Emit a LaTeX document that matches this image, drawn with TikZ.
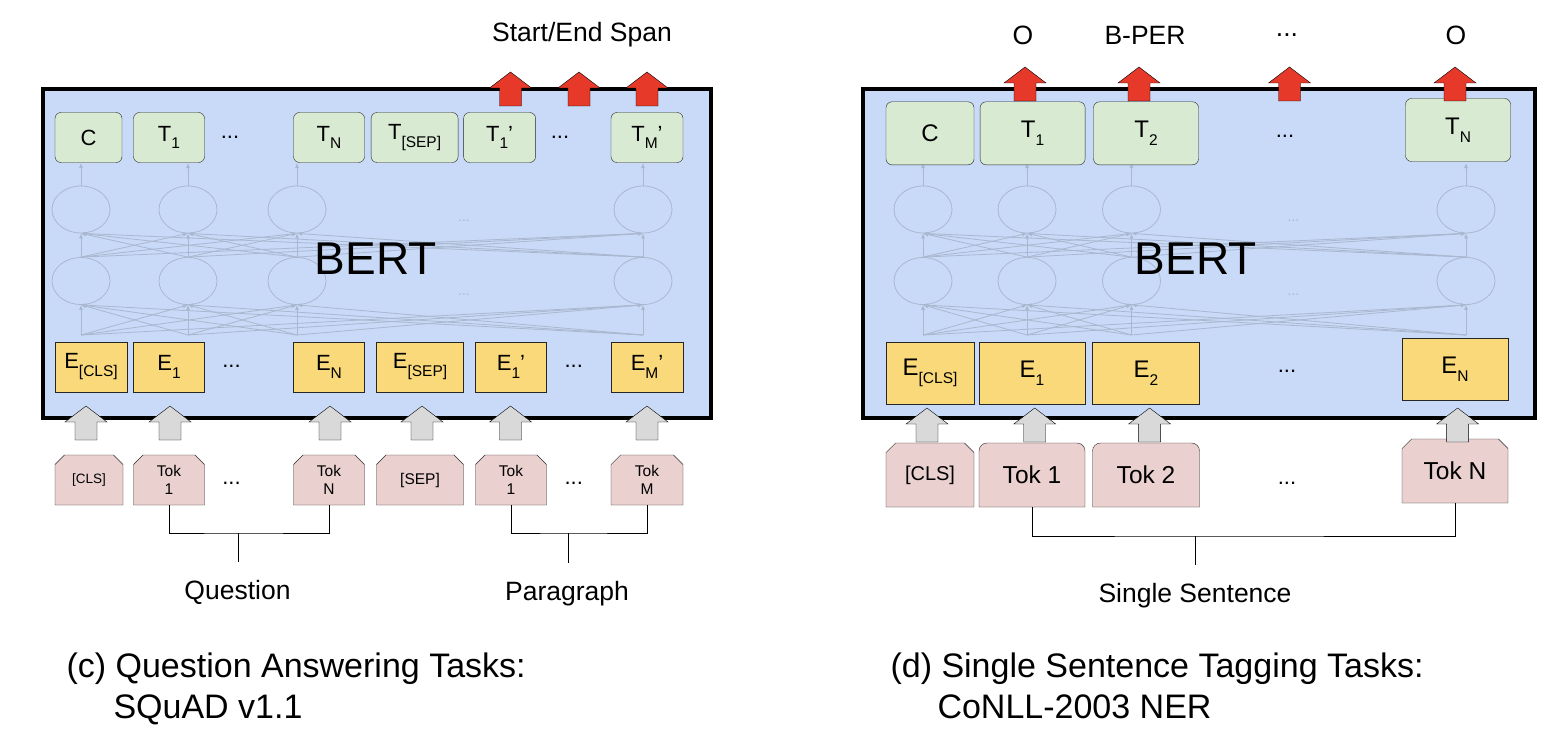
\documentclass[tikz,border=0pt]{standalone}
\usepackage{fontspec}
\setmainfont{Liberation Sans}
\usetikzlibrary{positioning, shapes.misc, shapes.geometric, arrows.meta}

\definecolor{bertblue}{HTML}{C9DAF8}
\definecolor{tgreen}{HTML}{D9EAD3}
\definecolor{eyellow}{HTML}{FAD97A}
\definecolor{tokpink}{HTML}{EAD0CF}
\definecolor{arrowred}{HTML}{E6392A}
\definecolor{arrowgray}{HTML}{D9D9D9}
\definecolor{netgray}{HTML}{A9B7CF}

% lowered index as in the slides
\newcommand{\sub}[1]{\raisebox{-0.34em}{\fontsize{15.5}{15.5}\selectfont #1}}
% big block arrow: x, tip y, colour
\newcommand{\blockarrow}[3]{%
  \draw[fill=#3, line join=miter] (#1,#2) -- ++(21,16) -- ++(-10,0) -- ++(0,18)
    -- ++(-22,0) -- ++(0,-18) -- ++(-10,0) -- cycle;}

\begin{document}
\begin{tikzpicture}[x=1pt, y=-1pt,
    tbox/.style={draw=black!85, fill=tgreen, rounded corners=6pt, inner sep=0pt,
      minimum height=50pt, font=\fontsize{22}{22}\selectfont},
    ebox/.style={draw=black!85, fill=eyellow, inner sep=0pt,
      minimum height=50pt, font=\fontsize{22}{22}\selectfont},
    tok/.style={draw=black!85, fill=tokpink, chamfered rectangle,
      chamfered rectangle corners={north west, north east}, chamfered rectangle xsep=6pt,
      inner sep=0pt, minimum height=50pt, align=center, font=\fontsize{15.5}{18.5}\selectfont},
    neuron/.style={draw=netgray, line width=0.8pt, ellipse, minimum width=58pt,
      minimum height=47pt, inner sep=0pt},
    netline/.style={draw=netgray, line width=0.8pt, -{Latex[length=5pt, width=4pt]}},
    dots/.style={font=\fontsize{22}{22}\selectfont},
    label/.style={font=\fontsize{26.5}{26.5}\selectfont},
    caption/.style={anchor=base west, font=\fontsize{34}{34}\selectfont}]
  \useasboundingbox (0,0) rectangle (1562,741);

  % ---------------- (c) question answering ----------------
  \draw[line width=3.5pt, fill=bertblue] (43,89) rectangle (711,418);

  % hidden layers
  \foreach \i/\x in {1/81, 2/188, 3/297, 4/643} {
    \node[neuron] (qaL\i) at (\x,281) {};
    \node[neuron] (qaU\i) at (\x,209.5) {};
    \coordinate (qaB\i) at (\x,335);
    \coordinate (qaO\i) at (\x,163);
  }
  \foreach \i in {1,...,4} {
    \draw[netline] (qaU\i.north) -- (qaO\i);
    \foreach \j in {1,...,4} {
      \draw[netline] (qaB\i) -- (qaL\j.south);
      \draw[netline] (qaL\i.north) -- (qaU\j.south);
    }
  }
  \node[font=\fontsize{14}{14}\selectfont, text=netgray] (qaUdots) at (464,221) {...};
  \node[font=\fontsize{14}{14}\selectfont, text=netgray] (qaLdots) at (464,295) {...};
  \node[font=\fontsize{46}{46}\selectfont] (qaBert) at (375.6,259) {BERT};

  % outputs
  \foreach \n/\x/\w/\t in {C/88.5/67/C, T1/169/71/T\sub{1}, TN/329/71/T\sub{N},
      TS/414.6/87/T\sub{[SEP]}, T1p/499.6/72/T\sub{1}’, TMp/647/72/T\sub{M}’}
    \node[tbox, minimum width=\w pt] (qa\n) at (\x,137.5) {\t};
  \node[dots] (qaTdots1) at (230,137) {...};
  \node[dots] (qaTdots2) at (560,137) {...};

  % embeddings
  \foreach \n/\x/\w/\t in {C/91/72/E\sub{[CLS]}, 1/169/71/E\sub{1}, N/329/71/E\sub{N},
      S/420/87/E\sub{[SEP]}, 1p/511/71/E\sub{1}’, Mp/647/72/E\sub{M}’}
    \node[ebox, minimum width=\w pt] (qaE\n) at (\x,366.7) {\t};
  \node[dots] (qaEdots1) at (231.5,366) {...};
  \node[dots] (qaEdots2) at (573.7,366) {...};

  % input tokens
  \foreach \n/\x/\w/\t in {C/89/68/{\fontsize{13.5}{16}\selectfont[CLS]}, 1/169/71/Tok\\1,
      N/329/71/Tok\\N, S/420/87/[SEP], 1p/511/71/Tok\\1, M/647/72/Tok\\M}
    \node[tok, minimum width=\w pt] (qaTok\n) at (\x,480) {\t};
  \node[dots] (qaKdots1) at (231.5,483) {...};
  \node[dots] (qaKdots2) at (573.7,483) {...};

  % block arrows
  \foreach \x in {510.5, 579, 647} { \blockarrow{\x}{72}{arrowred} }
  \foreach \x in {86, 170, 330, 422, 510.5, 647} { \blockarrow{\x}{406}{arrowgray} }
  \node[label] (qaSpan) at (582,35) {Start/End Span};

  % segments
  \coordinate (qaQmid) at (238,533);
  \coordinate (qaQend) at (238,562);
  \coordinate (qaPmid) at (568,533);
  \coordinate (qaPend) at (568,563);
  \draw (qaTok1.south) |- (qaQmid) -| (qaTokN.south);
  \draw (qaQmid) -- (qaQend);
  \draw (qaTok1p.south) |- (qaPmid) -| (qaTokM.south);
  \draw (qaPmid) -- (qaPend);
  \node[label] (qaQuestion) at (237.5,592) {Question};
  \node[label, anchor=base] (qaParagraph) at (567,600) {Paragraph};

  \node[caption] (qaCap1) at (63,677) {(c) Question Answering Tasks:};
  \node[caption] (qaCap2) at (110,718) {SQuAD v1.1};

  % ---------------- (d) sentence tagging ----------------
  \draw[line width=3.5pt, fill=bertblue] (863,89) rectangle (1535,418);

  \foreach \i/\x in {1/923, 2/1027, 3/1131.5, 4/1466} {
    \node[neuron] (nerL\i) at (\x,281) {};
    \node[neuron] (nerU\i) at (\x,209.5) {};
    \coordinate (nerB\i) at (\x,335);
    \coordinate (nerO\i) at (\x,163);
  }
  \foreach \i in {1,...,4} {
    \draw[netline] (nerU\i.north) -- (nerO\i);
    \foreach \j in {1,...,4} {
      \draw[netline] (nerB\i) -- (nerL\j.south);
      \draw[netline] (nerL\i.north) -- (nerU\j.south);
    }
  }
  \node[font=\fontsize{14}{14}\selectfont, text=netgray] (nerUdots) at (1293.5,221) {...};
  \node[font=\fontsize{14}{14}\selectfont, text=netgray] (nerLdots) at (1293.5,295) {...};
  \node[font=\fontsize{46}{46}\selectfont] (nerBert) at (1195.6,259) {BERT};

  % outputs
  \foreach \n/\x/\y/\w/\t in {C/930/133.3/88/C, T1/1032.6/133.3/105/T\sub{1},
      T2/1146/133.3/105/T\sub{2}, TN/1458/130/105/T\sub{N}}
    \node[tbox, minimum width=\w pt, minimum height=63pt,
      font=\fontsize{24}{24}\selectfont] (ner\n) at (\x,\y) {\t};
  \node[dots] (nerTdots) at (1285,136) {...};

  % embeddings
  \foreach \n/\x/\y/\w/\t in {C/930/373/88/E\sub{[CLS]}, 1/1032/373/106/E\sub{1},
      2/1146/373/107/E\sub{2}, N/1455/369.5/106/E\sub{N}}
    \node[ebox, minimum width=\w pt, minimum height=62pt,
      font=\fontsize{24}{24}\selectfont] (nerE\n) at (\x,\y) {\t};
  \node[dots] (nerEdots) at (1287,371) {...};

  % input tokens
  \node[tok, minimum width=88pt, minimum height=64pt, font=\fontsize{20}{20}\selectfont]
    (nerTokC) at (930,475) {[CLS]};
  \foreach \n/\x/\w in {1/1032/106, 2/1146/107} {
    \draw[draw=black!85, fill=tokpink, rounded corners=8pt]
      (\x-\w/2,507) -- (\x-\w/2,443) -- (\x+\w/2,443) [sharp corners] -- (\x+\w/2,507) -- cycle;
    \node[font=\fontsize{24.5}{24.5}\selectfont, minimum width=\w pt, minimum height=64pt,
      inner sep=0pt] (nerTok\n) at (\x,475) {Tok \n};
  }
  \node[tok, minimum width=106pt, minimum height=64pt, font=\fontsize{24.5}{24.5}\selectfont]
    (nerTokN) at (1455,471) {Tok N};
  \node[dots] (nerKdots) at (1287,483) {...};

  % block arrows
  \foreach \x in {1025, 1139, 1289.5, 1455} { \blockarrow{\x}{67}{arrowred} }
  \foreach \x in {927, 1034.7, 1149.6, 1457.6} { \blockarrow{\x}{408}{arrowgray} }
  \foreach \n/\x/\t in {1/1023/O, 2/1145/B-PER, 3/1287/{...}, 4/1456/O}
    \node[label] (nerTag\n) at (\x,35) {\t};

  % sentence
  \coordinate (nerSmid) at (1195,536);
  \coordinate (nerSend) at (1195,565);
  \draw (nerTok1.south) |- (nerSmid) -| (nerTokN.south);
  \draw (nerSmid) -- (nerSend);
  \node[label] (nerSentence) at (1195,596) {Single Sentence};

  \node[caption] (nerCap1) at (887,677) {(d) Single Sentence Tagging Tasks:};
  \node[caption] (nerCap2) at (934,718) {CoNLL-2003 NER};
\end{tikzpicture}
\end{document}
